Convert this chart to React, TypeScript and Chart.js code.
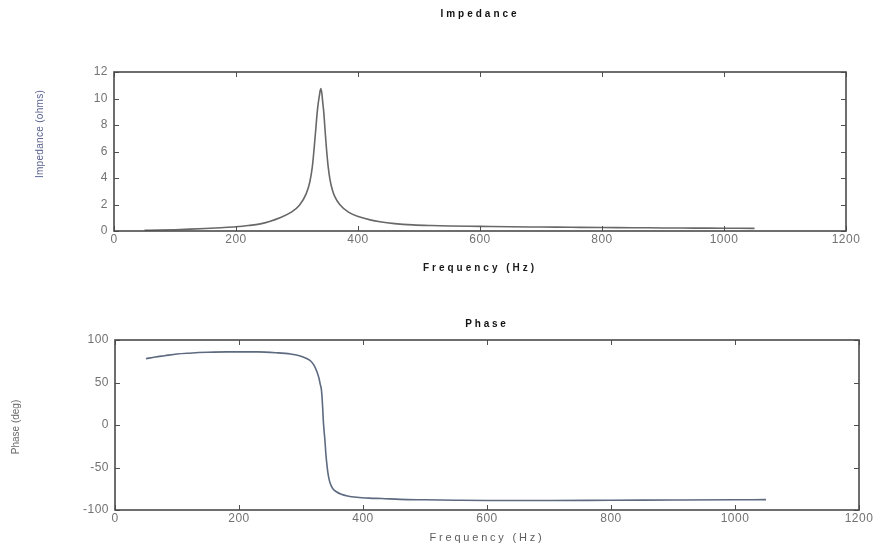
import { useEffect, useRef } from "react";
import { Chart, registerables } from "chart.js";

Chart.register(...registerables);

// Impedance magnitude sweep
const impedanceFreqHz = [
  50, 75, 100, 125, 150, 175, 200, 220, 240, 255, 272, 290, 304, 315, 321, 325, 328, 331, 333, 335,
  337, 338, 339, 340, 341, 342, 344, 346, 348, 351, 354, 358, 362, 370, 385, 403, 420, 436, 460, 490,
  520, 550, 600, 650, 700, 750, 800, 850, 900, 950, 1000, 1050,
];
const impedanceOhms = [
  0.05, 0.07, 0.1, 0.14, 0.19, 0.25, 0.32, 0.41, 0.54, 0.72, 1.0, 1.4, 1.95, 2.8, 3.7, 4.8, 6.2, 7.8, 8.9, 9.7,
  10.3, 10.6, 10.75, 10.6, 10.3, 9.8, 8.9, 7.6, 6.4, 4.9, 3.9, 3.1, 2.6, 2.0, 1.4, 1.05, 0.84, 0.7, 0.56, 0.46,
  0.41, 0.38, 0.35, 0.32, 0.3, 0.28, 0.26, 0.25, 0.23, 0.22, 0.21, 0.2,
];

// Phase sweep
const phaseFreqHz = [
  50, 65, 80, 100, 120, 150, 180, 200, 230, 260, 283, 300, 310, 316, 322, 326, 329, 331, 333, 335,
  336, 337, 338, 339, 340, 342, 344, 346, 349, 352, 357, 365, 375, 390, 410, 430, 460, 500, 550, 600,
  700, 800, 900, 1000, 1050,
];
const phaseDeg = [
  78, 80, 81.5, 83.5, 84.5, 85.5, 86, 86, 86, 85, 83.5, 81, 78, 75, 69, 62, 55, 48, 41, 20,
  5, -5, -13, -22, -33, -48, -59, -66, -72, -75.5, -78.5, -81.5, -83.5, -85, -86, -86.5, -87.5, -88, -88.5, -88.8,
  -88.8, -88.5, -88.3, -88, -87.8,
];

const freqTicks = [0, 200, 400, 600, 800, 1000, 1200];
const impedanceTicks = [0, 2, 4, 6, 8, 10, 12];
const phaseTicks = [-100, -50, 0, 50, 100];

const FONT = "'Liberation Sans', Arial, Helvetica, sans-serif";

// Wide letter spacing for the heading text (drawn before the datasets),
// tighter spacing for the tick labels (drawn after them, ticks.z = 1).
const spacing = {
  id: "spacing",
  beforeDraw(chart: any, _args: any, opts: any) {
    chart.ctx.letterSpacing = `${opts.heading}px`;
  },
  afterDatasetsDraw(chart: any, _args: any, opts: any) {
    chart.ctx.letterSpacing = `${opts.ticks}px`;
  },
  afterDraw(chart: any) {
    chart.ctx.letterSpacing = "0px";
  },
};

// Box frame with inward tick marks on all four sides
const boxTicks = {
  id: "boxTicks",
  afterDatasetsDraw(chart: any) {
    const { ctx, chartArea: a, scales } = chart;
    const xs = scales.x;
    const ys = scales.y;
    const len = 5;
    ctx.save();
    ctx.strokeStyle = "#505050";
    ctx.lineWidth = 1;
    ctx.beginPath();
    for (const t of xs.ticks) {
      const px = Math.round(xs.getPixelForValue(t.value)) + 0.5;
      ctx.moveTo(px, a.bottom);
      ctx.lineTo(px, a.bottom - len);
      ctx.moveTo(px, a.top);
      ctx.lineTo(px, a.top + len);
    }
    for (const t of ys.ticks) {
      const py = Math.round(ys.getPixelForValue(t.value)) + 0.5;
      ctx.moveTo(a.left, py);
      ctx.lineTo(a.left + len, py);
      ctx.moveTo(a.right, py);
      ctx.lineTo(a.right - len, py);
    }
    ctx.stroke();
    ctx.lineWidth = 1.6;
    ctx.strokeStyle = "#4a4a4a";
    ctx.strokeRect(a.left, a.top, a.right - a.left, a.bottom - a.top);
    ctx.restore();
  },
};

// Rotated caption beside the value axis
const sideCaption = {
  id: "sideCaption",
  afterDraw(chart: any, _args: any, opts: any) {
    if (!opts || !opts.text) return;
    const { ctx } = chart;
    ctx.save();
    ctx.letterSpacing = `${opts.letterSpacing || 0}px`;
    ctx.translate(opts.x, opts.y);
    ctx.rotate(-Math.PI / 2);
    ctx.font = opts.font;
    ctx.fillStyle = opts.color;
    ctx.textAlign = "center";
    ctx.textBaseline = "middle";
    ctx.fillText(opts.text, 0, 0);
    ctx.restore();
  },
};

function makeConfig(p: {
  freqs: number[];
  values: number[];
  lineColor: string;
  title: string;
  titlePad: { top: number; bottom: number };
  yTicks: number[];
  yMin: number;
  yMax: number;
  yWidth: number;
  xHeight: number;
  rightPad: number;
  xTitleFont: any;
  xTitleColor: string;
  xTitlePadBottom: number;
  headingSpacing: number;
  caption: any;
}) {
  const points = p.freqs.map((f, i) => ({ x: f, y: p.values[i] }));
  const tickFont = { family: FONT, size: 12 };
  return {
    type: "line" as const,
    data: {
      datasets: [
        {
          data: points,
          borderColor: p.lineColor,
          borderWidth: 1.6,
          pointRadius: 0,
          fill: false,
          cubicInterpolationMode: "monotone" as const,
        },
      ],
    },
    options: {
      animation: false as const,
      responsive: false,
      devicePixelRatio: 1,
      layout: { padding: { left: 0, right: p.rightPad, top: 0, bottom: 0 } },
      plugins: {
        legend: { display: false },
        tooltip: { enabled: false },
        title: {
          display: true,
          fullSize: false,
          text: p.title,
          color: "#111",
          font: { family: FONT, size: 10, weight: "bold" as const, lineHeight: 1.2 },
          padding: p.titlePad,
        },
        spacing: { heading: p.headingSpacing, ticks: 0.5 },
        sideCaption: p.caption,
      },
      scales: {
        x: {
          type: "linear" as const,
          min: 0,
          max: 1200,
          afterBuildTicks: (s: any) => {
            s.ticks = freqTicks.map((v) => ({ value: v }));
          },
          afterFit: (s: any) => {
            s.height = p.xHeight;
          },
          grid: { display: false, drawTicks: false },
          border: { display: false },
          ticks: {
            z: 1,
            padding: 1,
            maxRotation: 0,
            autoSkip: false,
            color: "#727272",
            font: tickFont,
            callback: (v: any) => String(v),
          },
          title: {
            display: true,
            text: "Frequency (Hz)",
            color: p.xTitleColor,
            font: p.xTitleFont,
            padding: { top: 0, bottom: p.xTitlePadBottom },
          },
        },
        y: {
          type: "linear" as const,
          min: p.yMin,
          max: p.yMax,
          afterBuildTicks: (s: any) => {
            s.ticks = p.yTicks.map((v) => ({ value: v }));
          },
          afterFit: (s: any) => {
            s.width = p.yWidth;
          },
          grid: { display: false, drawTicks: false },
          border: { display: false },
          ticks: {
            z: 1,
            padding: 6,
            autoSkip: false,
            color: "#727272",
            font: tickFont,
            callback: (v: any) => String(v),
          },
        },
      },
    },
    plugins: [spacing, boxTicks, sideCaption],
  };
}

export default function App() {
  const topRef = useRef<HTMLCanvasElement | null>(null);
  const bottomRef = useRef<HTMLCanvasElement | null>(null);

  useEffect(() => {
    if (!topRef.current || !bottomRef.current) return;
    const impedanceChart = new Chart(
      topRef.current,
      makeConfig({
        freqs: impedanceFreqHz,
        values: impedanceOhms,
        lineColor: "#686868",
        title: "Impedance",
        titlePad: { top: 8, bottom: 52 },
        yTicks: impedanceTicks,
        yMin: 0,
        yMax: 12,
        yWidth: 114,
        xHeight: 54,
        rightPad: 33,
        xTitleFont: { family: FONT, size: 10, weight: "bold", lineHeight: 1.2 },
        xTitleColor: "#1a1a1a",
        xTitlePadBottom: 11,
        headingSpacing: 3,
        caption: {
          text: "Impedance (ohms)",
          x: 40,
          y: 134,
          font: `10px ${FONT}`,
          color: "#5b6390",
          letterSpacing: 0.3,
        },
      }) as any
    );
    const phaseChart = new Chart(
      bottomRef.current,
      makeConfig({
        freqs: phaseFreqHz,
        values: phaseDeg,
        lineColor: "#5d6a80",
        title: "Phase",
        titlePad: { top: 33, bottom: 10 },
        yTicks: phaseTicks,
        yMin: -100,
        yMax: 100,
        yWidth: 115,
        xHeight: 40,
        rightPad: 20,
        xTitleFont: { family: FONT, size: 11, weight: "normal", lineHeight: 1.2 },
        xTitleColor: "#5e5e5e",
        xTitlePadBottom: 5,
        headingSpacing: 2.8,
        caption: {
          text: "Phase (deg)",
          x: 16,
          y: 142,
          font: `10px ${FONT}`,
          color: "#6a6a6a",
          letterSpacing: 0,
        },
      }) as any
    );
    return () => {
      impedanceChart.destroy();
      phaseChart.destroy();
    };
  }, []);

  return (
    <div
      style={{
        position: "absolute",
        left: 0,
        top: 0,
        width: 879,
        height: 550,
        background: "#ffffff",
        overflow: "hidden",
      }}
    >
      <canvas ref={topRef} width={879} height={285} style={{ position: "absolute", left: 0, top: 0 }} />
      <canvas ref={bottomRef} width={879} height={265} style={{ position: "absolute", left: 0, top: 285 }} />
    </div>
  );
}
